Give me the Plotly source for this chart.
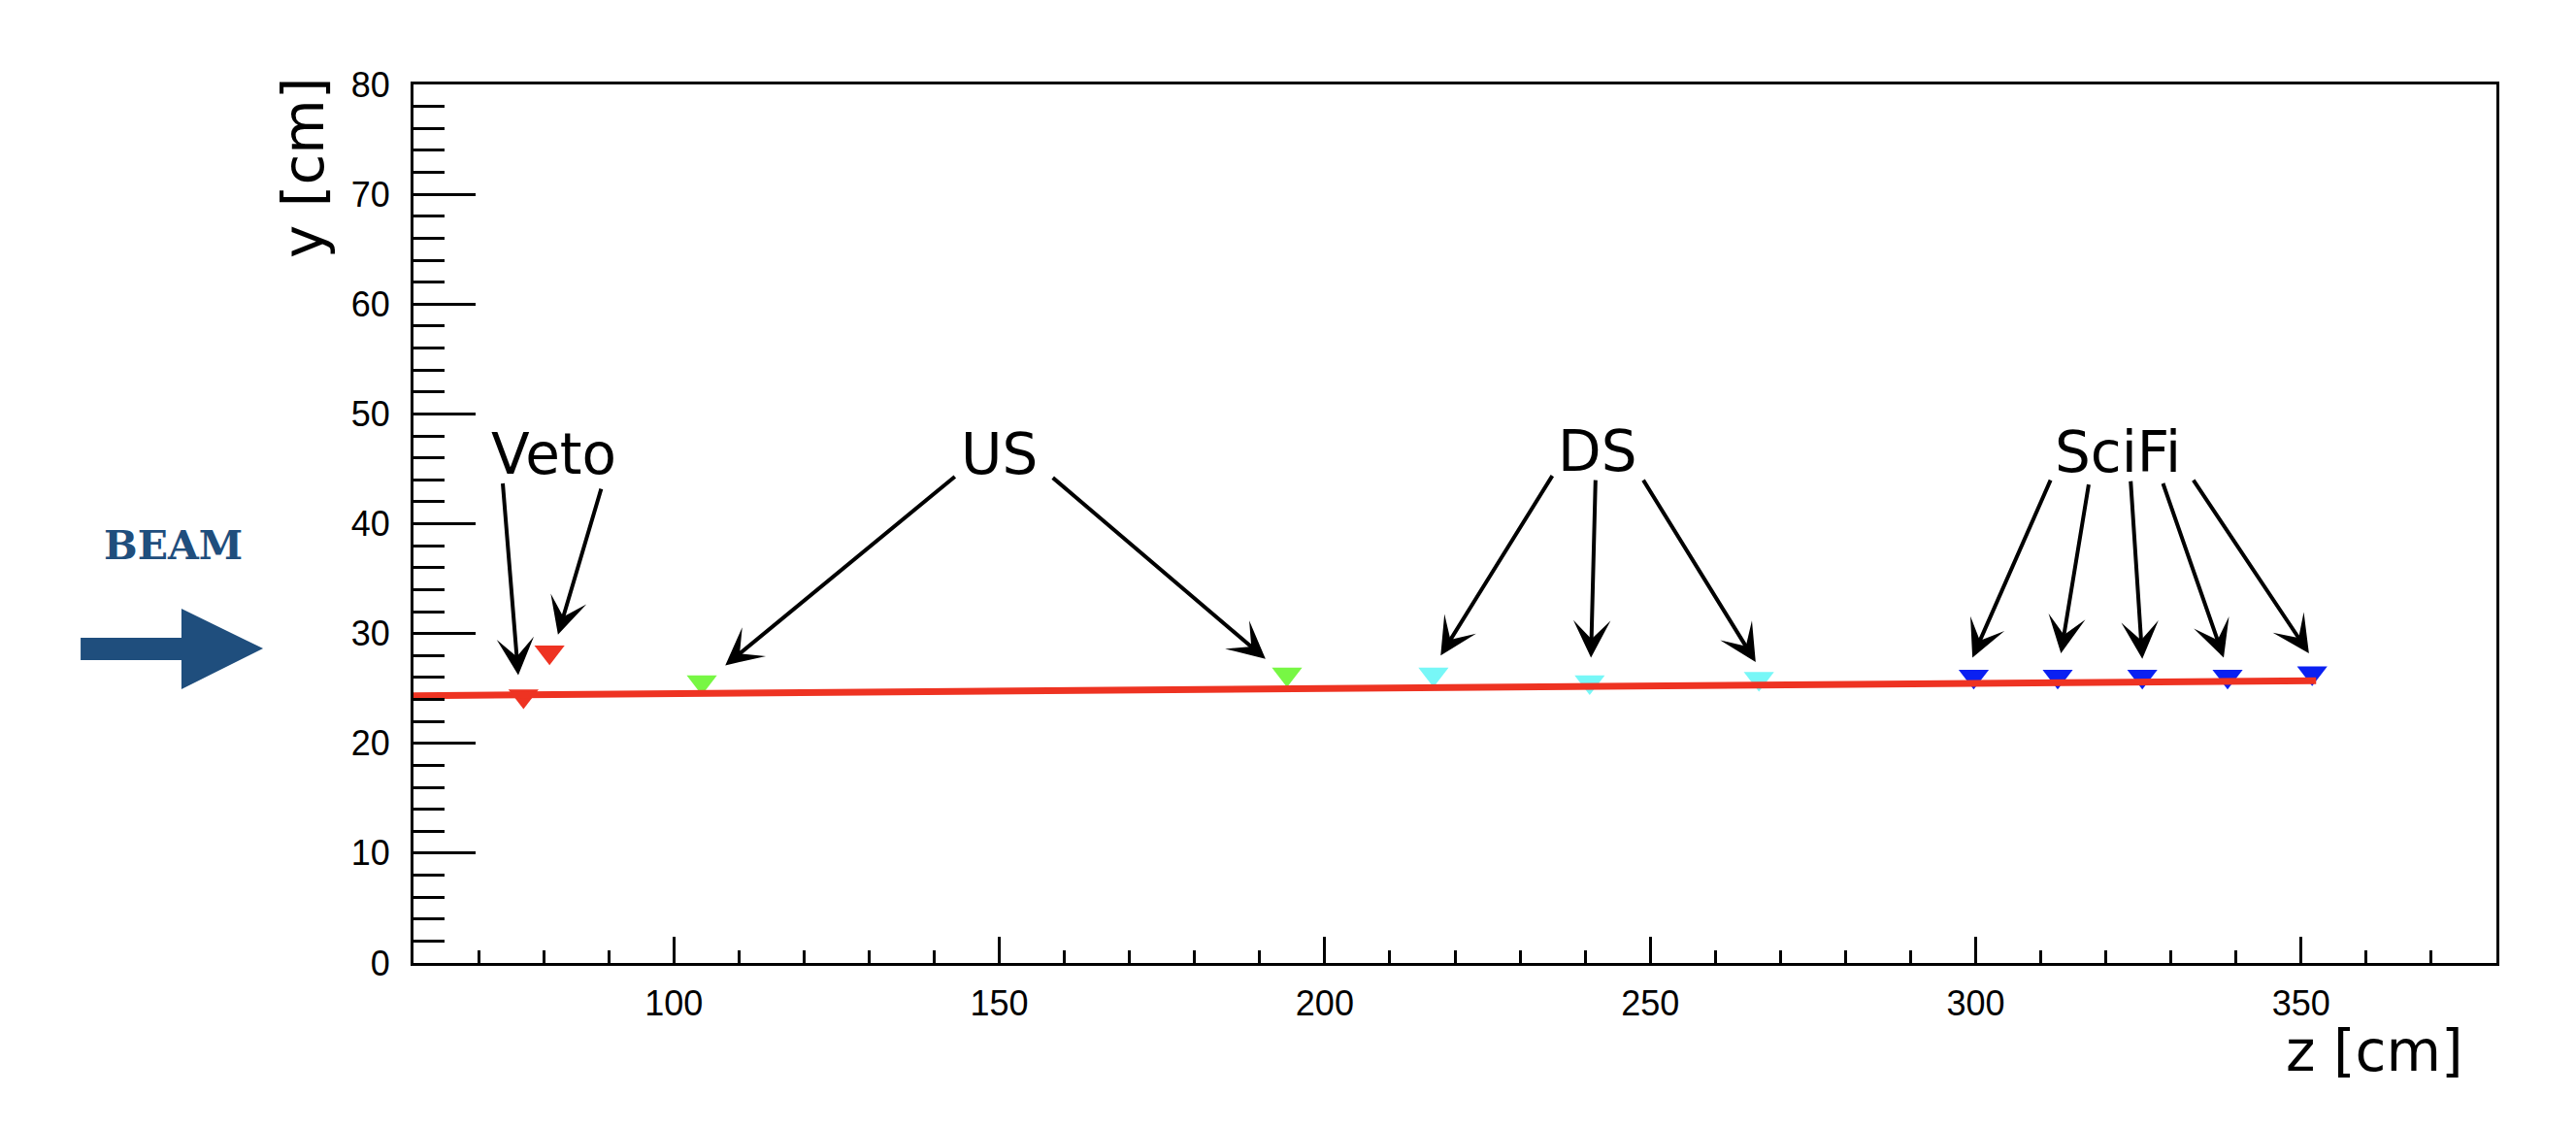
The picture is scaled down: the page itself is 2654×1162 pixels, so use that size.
import plotly.graph_objects as go

# hit positions per detector (z, y in cm)
veto_z = [76.9, 80.9]
veto_y = [24.3, 28.3]
us_z = [104.3, 194.2]
us_y = [25.6, 26.3]
ds_z = [216.7, 240.7, 266.7]
ds_y = [26.3, 25.6, 25.9]
scifi_z = [299.7, 312.6, 325.6, 338.7, 351.7]
scifi_y = [26.1, 26.1, 26.1, 26.1, 26.4]

# fitted track
track_z = [60.0, 352.3]
track_y = [24.34, 25.7]

# detector labels
label_text = ["Veto", "US", "DS", "SciFi"]
label_z = [81.6, 150.0, 241.8, 321.9]
label_y = [46.3, 46.3, 46.6, 46.5]

# arrows: tail z, tail y, tip z, tip y
arrow_tail_z = [73.7, 88.9, 143.4, 158.0, 235.1, 241.6, 248.8, 311.6, 317.4, 323.8, 328.7, 333.3]
arrow_tail_y = [43.8, 43.3, 44.4, 44.3, 44.5, 44.1, 44.1, 44.1, 43.7, 44.0, 43.8, 44.1]
arrow_tip_z = [76.1, 82.2, 107.9, 190.9, 217.8, 240.9, 266.2, 299.5, 313.1, 325.6, 338.1, 351.2]
arrow_tip_y = [26.2, 29.9, 27.1, 27.7, 28.0, 27.8, 27.4, 27.8, 28.2, 27.7, 27.8, 28.2]

W, H = 2654, 1162
# the page body adds an 8px offset, so margins are shifted by it
OFF = 8
L, R, T, B = 426 - OFF, 82 + OFF, 87 - OFF, 170 + OFF


def to_paper(px, py):
    # px, py are screen pixels as seen in the final picture
    px, py = px - OFF, py - OFF
    return (px - L) / (W - L - R), (H - B - py) / (H - T - B)


fig = go.Figure()

groups = [
    (veto_z, veto_y, "#EE3322"),
    (us_z, us_y, "#77F744"),
    (ds_z, ds_y, "#77F7F7"),
    (scifi_z, scifi_y, "#0A20F2"),
]
for gz, gy, col in groups:
    fig.add_trace(go.Scatter(x=gz, y=gy, mode="markers",
                             marker=dict(symbol="triangle-down", size=27, color=col,
                                         line=dict(width=0)),
                             showlegend=False))

fig.add_trace(go.Scatter(x=track_z, y=track_y, mode="lines",
                         line=dict(color="#EE3322", width=7), showlegend=False))

annotations = []
for t, z, y in zip(label_text, label_z, label_y):
    annotations.append(dict(x=z, y=y, xref="x", yref="y", text=t, showarrow=False,
                            font=dict(family="DejaVu Sans", size=58, color="black")))

for tz, ty, hz, hy in zip(arrow_tail_z, arrow_tail_y, arrow_tip_z, arrow_tip_y):
    annotations.append(dict(x=hz, y=hy, ax=tz, ay=ty, xref="x", yref="y",
                            axref="x", ayref="y", text="", showarrow=True,
                            arrowhead=3, arrowsize=1.6, arrowwidth=4,
                            arrowcolor="black", standoff=0))

# axis titles
zx, zy = to_paper(2446, 1083)
annotations.append(dict(x=zx, y=zy, xref="paper", yref="paper", text="z [cm]",
                        showarrow=False, xanchor="center", yanchor="middle",
                        font=dict(family="DejaVu Sans", size=58, color="black")))
yx, yy = to_paper(313, 173)
annotations.append(dict(x=yx, y=yy, xref="paper", yref="paper", text="y [cm]",
                        showarrow=False, textangle=-90, xanchor="center", yanchor="middle",
                        font=dict(family="DejaVu Sans", size=58, color="black")))

# beam label and arrow
bx, by = to_paper(178, 562)
annotations.append(dict(x=bx, y=by, xref="paper", yref="paper", text="BEAM",
                        showarrow=False, xanchor="center", yanchor="middle",
                        font=dict(family="DejaVu Serif", size=41, color="#1F4E7D",
                                  weight="bold")))

pts = [(83, 657), (187, 657), (187, 627), (271, 668), (187, 710), (187, 680), (83, 680)]
path = "M " + " L ".join("%.4f,%.4f" % to_paper(px, py) for px, py in pts) + " Z"
fig.add_shape(type="path", path=path, xref="paper", yref="paper",
              fillcolor="#1F4E7D", line=dict(width=0))

fig.update_xaxes(range=[60, 380], tick0=0, dtick=50, ticks="inside", ticklen=27,
                 tickwidth=3, tickcolor="black", showline=True, linewidth=3,
                 linecolor="black", mirror=True, showgrid=False, zeroline=False,
                 ticklabelstandoff=8,
                 tickfont=dict(family="Liberation Sans", size=36, color="black"),
                 minor=dict(dtick=10, ticks="inside", ticklen=13, tickwidth=3,
                            tickcolor="black", showgrid=False))
fig.update_yaxes(range=[0, 80], tick0=0, dtick=10, ticks="inside", ticklen=64,
                 tickwidth=3, tickcolor="black", showline=True, linewidth=3,
                 linecolor="black", mirror=True, showgrid=False, zeroline=False,
                 ticklabelstandoff=14,
                 tickfont=dict(family="Liberation Sans", size=36, color="black"),
                 minor=dict(dtick=2, ticks="inside", ticklen=32, tickwidth=3,
                            tickcolor="black", showgrid=False))

fig.update_layout(width=W, height=H, margin=dict(l=L, r=R, t=T, b=B),
                  paper_bgcolor="white", plot_bgcolor="white",
                  annotations=annotations)

fig.write_html("out.html")
